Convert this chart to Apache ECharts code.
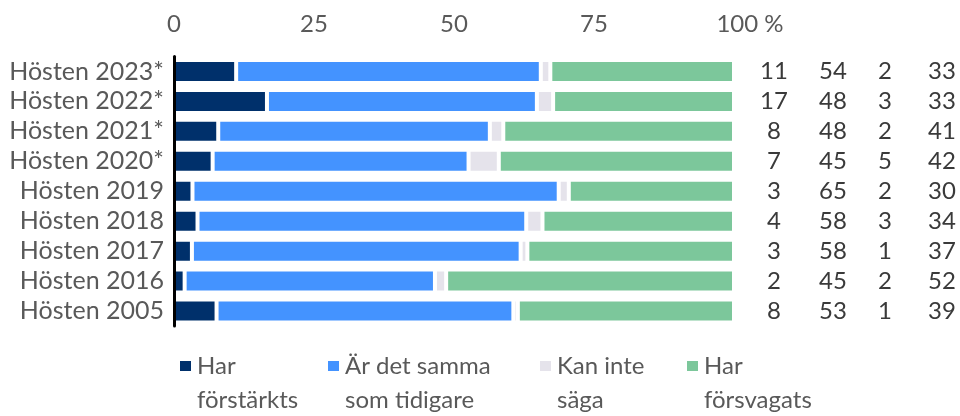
<!DOCTYPE html>
<html>
<head>
<meta charset="utf-8">
<script src="https://cdn.jsdelivr.net/npm/echarts@6/dist/echarts.min.js"></script>
<style>
html,body{margin:0;padding:0;background:#fff;}
#chart{width:960px;height:416px;}
</style>
</head>
<body>
<div id="chart"></div>
<script>
// Categories (top to bottom)
const categories = ['Hösten 2023*','Hösten 2022*','Hösten 2021*','Hösten 2020*','Hösten 2019','Hösten 2018','Hösten 2017','Hösten 2016','Hösten 2005'];
// Series names
const seriesNames = ['Har\nförstärkts','Är det samma\nsom tidigare','Kan inte\nsäga','Har\nförsvagats'];
// Bar values (percent)
const strengthened = [11.1,16.6,7.9,6.9,3.3,4.2,3.2,1.9,7.6];
const same         = [54.4,48.2,48.5,45.7,65.4,58.7,58.7,44.7,53.0];
const cantSay      = [1.7,2.9,2.4,5.4,1.8,2.9,1.2,2.0,0.8];
const weakened     = [32.8,32.3,41.2,42.0,29.5,34.2,36.9,51.4,38.6];
// Printed table values on the right
const colStrengthened = [11,17,8,7,3,4,3,2,8];
const colSame         = [54,48,48,45,65,58,58,45,53];
const colCantSay      = [2,3,2,5,2,3,1,2,1];
const colWeakened     = [33,33,41,42,30,34,37,52,39];
// X-axis ticks
const xTicks = [0,25,50,75,100];

const colors = ['#00306b','#4493ff','#e5e3eb','#7cc79b'];
const FONT = 'Lato';
const txt = '#595959';

const seriesData = [strengthened, same, cantSay, weakened];
const cols = [colStrengthened, colSame, colCantSay, colWeakened];
const colMargins = [40, 99, 151, 208];

const chart = echarts.init(document.getElementById('chart'), null, {renderer:'canvas'});

const yAxes = [{
  type:'category', data:categories, inverse:true, position:'left', z:10,
  axisLine:{show:true, onZero:false, lineStyle:{color:'#000', width:3}},
  axisTick:{show:false},
  axisLabel:{fontFamily:FONT, fontSize:25, color:txt, margin:10, interval:0}
}];
cols.forEach((c, k) => {
  yAxes.push({
    type:'category', data:categories, inverse:true, position:'right',
    axisLine:{show:false}, axisTick:{show:false}, splitLine:{show:false},
    axisLabel:{fontFamily:FONT, fontSize:24, color:'#3a3a3a', margin:colMargins[k], align:'center', interval:0,
      formatter:(v, i) => String(c[i])}
  });
});

const legendLefts = [178, 326, 538, 685];
const legends = seriesNames.map((n, k) => ({
  data:[n], left:legendLefts[k], top:315, padding:0,
  itemWidth:13, itemHeight:12, icon:'rect', selectedMode:false,
  formatter:(name) => '\n' + name,
  textStyle:{fontFamily:FONT, fontSize:24, color:txt, lineHeight:34}
}));

chart.setOption({
  animation:false,
  grid:{left:174, right:226, top:56.5, height:269.5, containLabel:false},
  xAxis:{
    type:'value', position:'top', min:0, max:100, interval:25,
    axisLine:{show:false}, axisTick:{show:false}, splitLine:{show:false},
    axisLabel:{fontFamily:FONT, fontSize:24, color:txt, margin:20,
      customValues:xTicks,
      formatter:(v) => v === 100 ? '{p|100 %}' : String(v),
      rich:{p:{fontFamily:FONT, fontSize:24, color:txt, padding:[0,0,0,32]}}}
  },
  yAxis:yAxes,
  legend:legends,
  series:seriesNames.map((n, k) => ({
    name:n, type:'bar', stack:'total', xAxisIndex:0, yAxisIndex:0,
    data:seriesData[k], barWidth:23,
    itemStyle:{color:colors[k], borderColor:'#fff', borderWidth:2},
    emphasis:{disabled:true}
  }))
});
</script>
</body>
</html>
